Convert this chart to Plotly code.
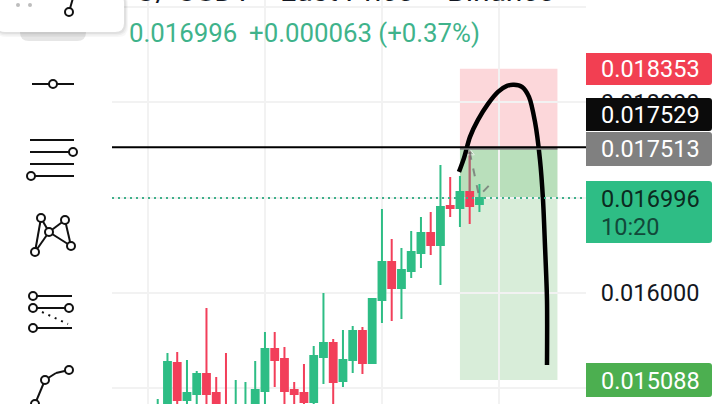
import plotly.graph_objects as go

W, H = 720, 404

# ---- data (prices) ----
bar_index = list(range(34))
opens = [0.014458,0.014751,0.015265,0.014877,0.014940,0.015150,0.014951,0.014772,0.014667,0.014667,0.014751,0.014972,0.015412,0.015307,0.014982,0.014951,0.014856,0.015328,0.015475,0.015077,0.015297,0.015601,0.015265,0.015927,0.016325,0.016052,0.016231,0.016420,0.016630,0.016504,0.016913,0.016892,0.017060,0.016933]
highs = [0.014888,0.015370,0.015381,0.015297,0.015182,0.015843,0.015119,0.015370,0.015087,0.015066,0.015286,0.015591,0.015591,0.015433,0.015066,0.015255,0.015444,0.016000,0.015517,0.015612,0.015654,0.015643,0.015948,0.016881,0.016567,0.016472,0.016651,0.016797,0.016850,0.017343,0.017217,0.017228,0.017480,0.017144]
lows = [0.014405,0.014667,0.014751,0.014772,0.014751,0.014667,0.014667,0.014615,0.014615,0.014615,0.014667,0.014772,0.015014,0.014772,0.014751,0.014751,0.014751,0.015045,0.014751,0.015014,0.015161,0.015150,0.015265,0.015685,0.015706,0.015727,0.016157,0.016262,0.016399,0.016084,0.016797,0.016693,0.016724,0.016850]
closes = [0.014720,0.015276,0.014877,0.014951,0.015150,0.014940,0.014751,0.014667,0.014772,0.014793,0.014982,0.015412,0.015297,0.014972,0.014940,0.014856,0.015339,0.015475,0.015066,0.015297,0.015601,0.015265,0.015937,0.016325,0.016052,0.016241,0.016430,0.016630,0.016504,0.016902,0.016892,0.017060,0.016913,0.016996]

grid_bars = [-1, 11, 23, 35]
price_ticks = [0.019, 0.018, 0.017, 0.016, 0.015]
price_tick_labels = ["0.019000", "0.018000", "0.017000", "0.016000", "0.015000"]

stop_price = 0.018353
crosshair_price = 0.017529
entry_price = 0.017513
last_price = 0.016996
target_price = 0.015088
position_start, position_end = 31, 41

stroke_bars = [30.90,31.42,32.03,32.85,33.88,34.90,35.82,36.54,37.36,38.08,38.70,39.21,39.52,39.72,39.93,39.93]
stroke_prices = [0.017270,0.017417,0.017637,0.017815,0.017983,0.018109,0.018172,0.018183,0.018162,0.018057,0.017794,0.017396,0.016976,0.016504,0.015927,0.015245]

arrow_bars = [32, 32]
arrow_prices = [0.017060, 0.017470]
dash_bars = [32, 32.95, 33.95]
dash_prices = [0.017480, 0.017018, 0.017123]

GREEN = "#2EBD85"
RED = "#F23F5A"
GRID = "#F2F2F2"

def px(x): return x / W
def py(y): return 1 - y / H

shapes = []

# position tool
def band(y0, y1, color):
    shapes.append(dict(type="rect", xref="x", yref="y", x0=position_start, x1=position_end, y0=y0, y1=y1,
                       fillcolor=color, line_width=0, layer="below"))
band(entry_price, stop_price, "rgba(242,54,69,0.2)")
band(target_price, entry_price, "rgba(76,175,80,0.22)")
band(last_price, entry_price, "rgba(76,175,80,0.22)")

def hline(price, color, width, dash="solid", x0=None, x1=None, layer="above"):
    d = dict(type="line", yref="y", y0=price, y1=price, line=dict(color=color, width=width, dash=dash), layer=layer)
    if x0 is None:
        d.update(xref="paper", x0=px(112), x1=px(586))
    else:
        d.update(xref="x", x0=x0, x1=x1)
    shapes.append(d)

hline(last_price, "#3FB08A", 2, "2px 4px")
hline(entry_price, "#808080", 2, x0=position_start, x1=position_end)
hline(crosshair_price, "#000000", 2)

# pixel-placed decorations
def rect(x0, y0, x1, y1, color, r=0, rl=None):
    rl = r if rl is None else rl
    X0, X1, Y0, Y1 = x0, x1, y0, y1
    def P(a, b): return f"{px(a):.5f},{py(b):.5f}"
    path = (f"M{P(X0+rl,Y0)} L{P(X1-r,Y0)} Q{P(X1,Y0)} {P(X1,Y0+r)} L{P(X1,Y1-r)} Q{P(X1,Y1)} {P(X1-r,Y1)} "
            f"L{P(X0+rl,Y1)} Q{P(X0,Y1)} {P(X0,Y1-rl)} L{P(X0,Y0+rl)} Q{P(X0,Y0)} {P(X0+rl,Y0)} Z")
    shapes.append(dict(type="path", xref="paper", yref="paper", path=path, fillcolor=color, line_width=0, layer="above"))

def seg(x0, y0, x1, y1, color="#111111", width=2, dash="solid"):
    shapes.append(dict(type="line", xref="paper", yref="paper", x0=px(x0), x1=px(x1), y0=py(y0), y1=py(y1),
                       line=dict(color=color, width=width, dash=dash), layer="above"))

def dot(x, y, r=4, fill="#FFFFFF", line="#111111", width=2):
    shapes.append(dict(type="circle", xref="paper", yref="paper", x0=px(x-r), x1=px(x+r), y0=py(y+r), y1=py(y-r),
                       fillcolor=fill, line=dict(color=line, width=width), layer="above"))

# price labels
rect(586, 53, 712, 85, "#F23F52", r=3, rl=0)
rect(586, 98, 712, 131, "#0B0B0B", r=3, rl=0)
rect(586, 132, 712, 166, "#808080", r=3, rl=0)
rect(586, 181, 712, 243, GREEN, r=3, rl=0)
rect(586, 363, 712, 397, "#4CAF50", r=3, rl=0)

# top-left popup and pill
rect(20, 20, 86, 41, "#E6E6E6", r=9)
for i, a in enumerate([0.03, 0.04, 0.05]):
    rect(-4, -6, 128-i, 37-i*1.5, f"rgba(0,0,0,{a})", r=10)
rect(-4, -6, 124, 32, "#FFFFFF", r=9)
dot(18, 5, r=2, fill="#BDBDBD", line="#BDBDBD", width=0)
dot(30, 5, r=2, fill="#BDBDBD", line="#BDBDBD", width=0)
seg(69, 12, 73, -2)
dot(69, 12)

# tool icons
seg(32, 84, 74, 84); dot(53, 84)
seg(30, 140, 74, 140); seg(30, 152, 73, 152); seg(30, 164, 74, 164); seg(31, 176, 74, 176)
dot(73, 152); dot(31, 176)
for a, b, c, d in [(41,218,35,252),(41,218,49,232),(35,252,49,232),(49,232,65,220),(49,232,71,246),(65,220,71,246)]:
    seg(a, b, c, d)
for a, b in [(41,218),(65,220),(49,232),(71,246),(35,252)]:
    dot(a, b)
seg(33, 296, 72, 296); seg(33, 308, 69, 308); seg(33, 328, 72, 328)
seg(42, 312, 68, 324, width=2, dash="2px 5px")
for a, b in [(33,296),(33,308),(69,308),(33,328)]:
    dot(a, b)
seg(35, 404, 45, 380); seg(45, 380, 56, 373); seg(56, 373, 69, 370)
for a, b in [(69,370),(45,380),(35,404)]:
    dot(a, b)

# text
annotations = []
def text(x, y, s, color, size=23.5, anchor="left", vanchor="middle"):
    annotations.append(dict(xref="paper", yref="paper", x=px(x), y=py(y), text=s, showarrow=False,
                            xanchor=anchor, yanchor=vanchor, xshift=0, borderpad=0, borderwidth=0,
                            font=dict(family="Roboto", size=size, color=color)))

text(136, -9, "U/", "#131722", size=30)
text(177, -9, "USDT ·", "#131722", size=30)
text(280, -9, "Last Price ·", "#131722", size=30)
text(447, -9, "Binance", "#131722", size=30)
text(129, 33, "0.016996", "#3FB38B", size=25.8)
text(249, 33, "+0.000063 (+0.37%)", "#3FB38B", size=25.8)
text(601, 69, f"{stop_price:.6f}", "#FFFFFF")
text(601, 115, f"{crosshair_price:.6f}", "#FFFFFF")
text(601, 149, f"{entry_price:.6f}", "#FFFFFF")
text(601, 199, f"{last_price:.6f}", "#0B2A20")
text(601, 227, "10:20", "#12493A")
text(601, 381, f"{target_price:.6f}", "#FFFFFF")

fig = go.Figure()
fig.add_trace(go.Candlestick(
    x=bar_index, open=opens, high=highs, low=lows, close=closes,
    increasing=dict(line=dict(color=GREEN, width=2), fillcolor=GREEN),
    decreasing=dict(line=dict(color=RED, width=2), fillcolor=RED),
    whiskerwidth=0, showlegend=False, hoverinfo="skip"))
fig.add_trace(go.Scatter(x=arrow_bars, y=arrow_prices, mode="lines+markers",
    line=dict(color="rgba(128,128,128,0.65)", width=2),
    marker=dict(symbol=["circle", "triangle-up"], size=[0, 8], color="rgba(128,128,128,0.65)"),
    showlegend=False, hoverinfo="skip"))
fig.add_trace(go.Scatter(x=dash_bars, y=dash_prices, mode="lines",
    line=dict(color="rgba(110,110,110,0.75)", width=2, dash="8px 9px"), showlegend=False, hoverinfo="skip"))
fig.add_trace(go.Scatter(x=stroke_bars, y=stroke_prices, mode="lines",
    line=dict(color="#000000", width=4.5, shape="spline", smoothing=0.8), showlegend=False, hoverinfo="skip"))

fig.update_layout(
    width=W, height=H, autosize=False,
    margin=dict(l=0, r=0, t=0, b=0, pad=0),
    paper_bgcolor="#FFFFFF", plot_bgcolor="#FFFFFF",
    boxgap=0.3, boxgroupgap=0,
    showlegend=False,
    shapes=shapes, annotations=annotations,
    xaxis=dict(domain=[112/W, 586/W], range=[-4.69, 43.93], rangeslider=dict(visible=False),
               tickmode="array", tickvals=grid_bars, showticklabels=False, ticks="",
               showgrid=True, gridcolor=GRID, gridwidth=2, zeroline=False, showline=False),
    yaxis=dict(domain=[0, 1], range=[0.014835, 0.019073], side="right",
               tickmode="array", tickvals=price_ticks, ticktext=price_tick_labels,
               tickfont=dict(family="Roboto", size=23.5, color="#131722"),
               ticks="outside", ticklen=9, tickcolor="rgba(0,0,0,0)",
               showgrid=True, gridcolor=GRID, gridwidth=2, zeroline=False, showline=False),
)
fig.write_html("out.html", config=dict(displayModeBar=False),
               post_script="document.body.style.margin='0';document.documentElement.style.overflow='hidden';document.body.style.overflow='hidden';")
